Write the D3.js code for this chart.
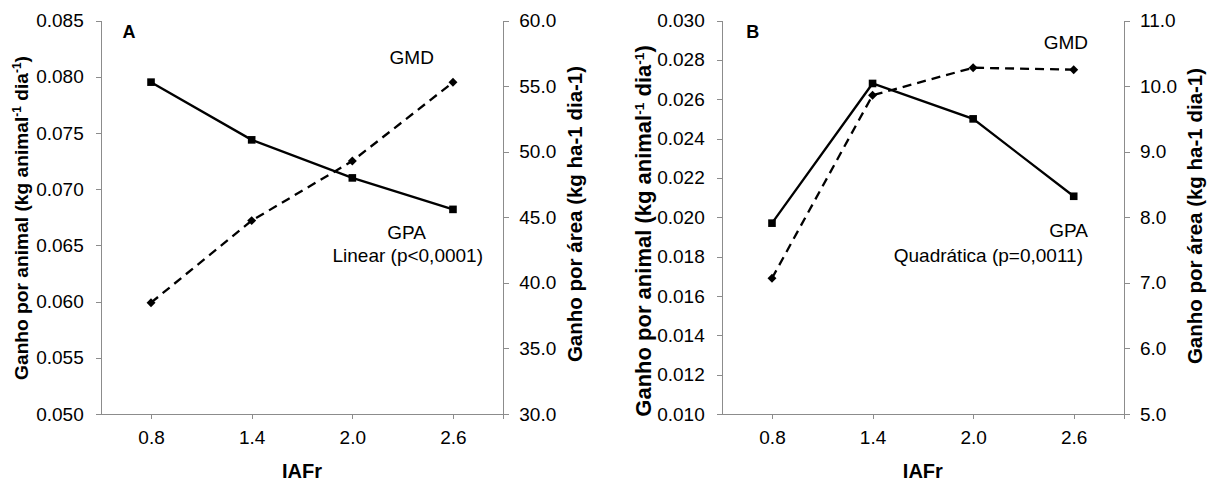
<!doctype html>
<html>
<head>
<meta charset="utf-8">
<title>Ganho por animal e por área x IAFr</title>
<style>
    body { margin: 0; background: white; }
    text { font-family: "Liberation Sans", Arial, sans-serif; fill: black; }
    .axis path, .axis line { stroke: #8c8c8c; stroke-width: 1px; shape-rendering: crispEdges; }
    .axis text { font-size: 19px; fill: black; }
    .title { font-weight: bold; text-anchor: middle; }
    .note { font-size: 19px; }
</style>
</head>
<body>
<script src="https://cdn.jsdelivr.net/npm/d3@7"></script>
<script>
    // data
    const iafr = [0.8, 1.4, 2.0, 2.6];
    const gmdA = [0.0599, 0.0672, 0.0725, 0.0795];   // dashed, left axis
    const gpaA = [55.3, 50.9, 48.0, 45.6];           // solid, right axis
    const gmdB = [0.0169, 0.0262, 0.0276, 0.0275];
    const gpaB = [7.91, 10.04, 9.50, 8.32];

    const leftTicksA = [0.050, 0.055, 0.060, 0.065, 0.070, 0.075, 0.080, 0.085];
    const rightTicksA = [30, 35, 40, 45, 50, 55, 60];
    const leftTicksB = [0.010, 0.012, 0.014, 0.016, 0.018, 0.020, 0.022, 0.024, 0.026, 0.028, 0.030];
    const rightTicksB = [5, 6, 7, 8, 9, 10, 11];
    const xTicks = [0.8, 1.4, 2.0, 2.6];
    const xDomain = [0.5, 2.9];

    const width = 1216, height = 481;
    const plotTop = 20.5, plotBottom = 414;

    const svg = d3.select("body").append("svg")
        .attr("width", width)
        .attr("height", height);

    function panel(p) {
        const x = d3.scaleLinear().domain(xDomain).range([p.x0, p.x1]);
        const yL = d3.scaleLinear().domain(d3.extent(p.leftTicks)).range([plotBottom, plotTop]);
        const yR = d3.scaleLinear().domain(d3.extent(p.rightTicks)).range([plotBottom, plotTop]);
        const g = svg.append("g");

        g.append("g").attr("class", "axis")
            .attr("transform", `translate(0,${plotBottom})`)
            .call(d3.axisBottom(x).tickValues(xTicks.concat([xDomain[1]]))
                .tickFormat(d => d === xDomain[1] ? "" : d3.format(".1f")(d))
                .tickSize(5).tickSizeOuter(0).tickPadding(12));
        g.append("g").attr("class", "axis")
            .attr("transform", `translate(${p.x0},0)`)
            .call(d3.axisLeft(yL).tickValues(p.leftTicks).tickFormat(d3.format(".3f"))
                .tickSize(5).tickSizeOuter(0).tickPadding(12));
        g.append("g").attr("class", "axis")
            .attr("transform", `translate(${p.x1},0)`)
            .call(d3.axisRight(yR).tickValues(p.rightTicks).tickFormat(d3.format(".1f"))
                .tickSize(6).tickSizeOuter(0).tickPadding(10));

        // solid line + squares (right axis)
        const solid = iafr.map((v, i) => [x(v), yR(p.gpa[i])]);
        g.append("path")
            .attr("d", d3.line()(solid))
            .attr("fill", "none").attr("stroke", "black").attr("stroke-width", 2.3);
        g.selectAll(".sq").data(solid).join("path")
            .attr("transform", d => `translate(${d[0]},${d[1]})`)
            .attr("d", d3.symbol(d3.symbolSquare, 58)());

        // dashed line + diamonds (left axis)
        const dashed = iafr.map((v, i) => [x(v), yL(p.gmd[i])]);
        g.append("path")
            .attr("d", d3.line()(dashed))
            .attr("fill", "none").attr("stroke", "black").attr("stroke-width", 2.3)
            .attr("stroke-dasharray", "9,6");
        g.selectAll(".dm").data(dashed).join("path")
            .attr("transform", d => `translate(${d[0]},${d[1]}) rotate(45)`)
            .attr("d", d3.symbol(d3.symbolSquare, 40)());

        // panel letter
        g.append("text")
            .attr("x", p.letterX).attr("y", 32).attr("dy", "0.35em")
            .attr("text-anchor", "middle")
            .style("font-weight", "bold").style("font-size", "18px")
            .text(p.letter);

        // axis titles
        const lt = g.append("text").attr("class", "title")
            .style("font-size", p.leftTitleSize + "px")
            .attr("transform", `translate(${p.leftTitleX},${p.leftTitleY}) rotate(-90)`)
            .attr("dy", "0.35em");
        lt.append("tspan").text("Ganho por animal (kg animal");
        lt.append("tspan").attr("baseline-shift", "super").style("font-size", "0.62em").text("-1");
        lt.append("tspan").text(" dia");
        lt.append("tspan").attr("baseline-shift", "super").style("font-size", "0.62em").text("-1");
        lt.append("tspan").text(")");

        g.append("text").attr("class", "title")
            .style("font-size", "20.5px")
            .attr("transform", `translate(${p.rightTitleX},${p.rightTitleY}) rotate(-90)`)
            .attr("dy", "0.35em")
            .text("Ganho por área (kg ha-1 dia-1)");

        g.append("text").attr("class", "title")
            .style("font-size", "20px")
            .attr("x", (p.x0 + p.x1) / 2).attr("y", 471).attr("dy", "0.35em")
            .text("IAFr");

        // labels
        p.notes.forEach(n => {
            g.append("text").attr("class", "note")
                .attr("x", n.x).attr("y", n.y).attr("dy", "0.35em")
                .attr("text-anchor", n.anchor)
                .text(n.text);
        });
    }

    panel({
        x0: 100.7, x1: 503.3,
        leftTicks: leftTicksA, rightTicks: rightTicksA,
        gmd: gmdA, gpa: gpaA,
        letter: "A", letterX: 129,
        leftTitleX: 21, leftTitleY: 218, leftTitleSize: 19.2,
        rightTitleX: 575, rightTitleY: 214,
        notes: [
            {text: "GMD", x: 411.7, y: 57, anchor: "middle"},
            {text: "GPA", x: 406.7, y: 232, anchor: "middle"},
            {text: "Linear (p<0,0001)", x: 483, y: 255, anchor: "end"}
        ]
    });

    panel({
        x0: 721.7, x1: 1124,
        leftTicks: leftTicksB, rightTicks: rightTicksB,
        gmd: gmdB, gpa: gpaB,
        letter: "B", letterX: 752.7,
        leftTitleX: 643, leftTitleY: 231, leftTitleSize: 22,
        rightTitleX: 1195, rightTitleY: 216,
        notes: [
            {text: "GMD", x: 1088, y: 42, anchor: "end"},
            {text: "GPA", x: 1088, y: 230, anchor: "end"},
            {text: "Quadrática (p=0,0011)", x: 1083, y: 255, anchor: "end"}
        ]
    });
</script>
</body>
</html>
